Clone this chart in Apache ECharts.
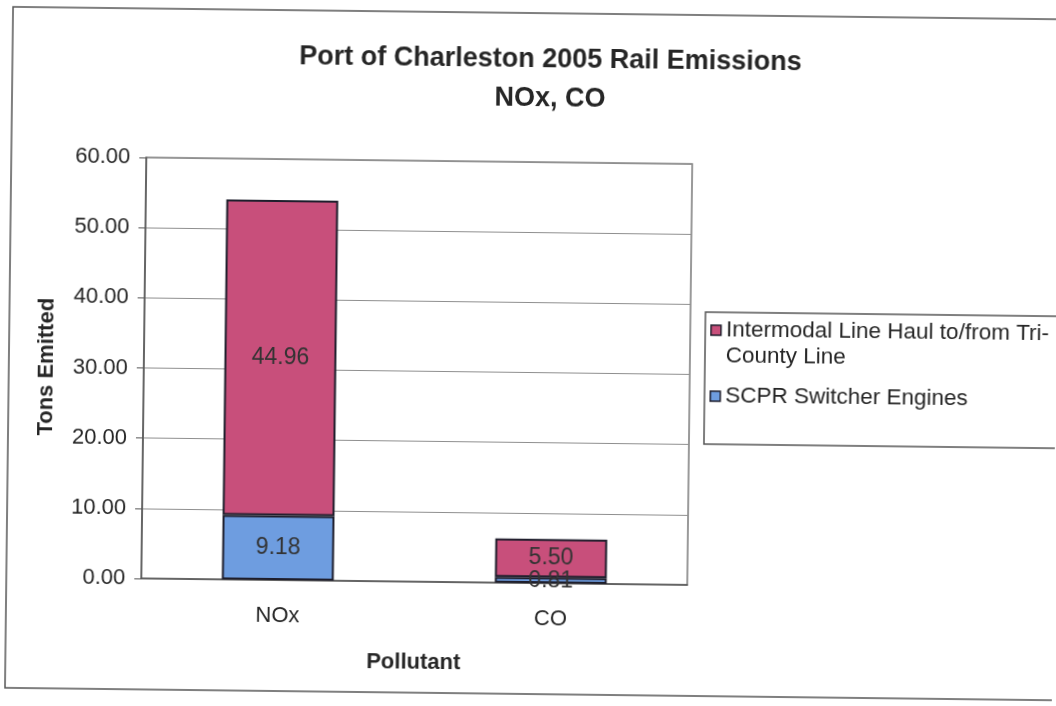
<!DOCTYPE html>
<html>
<head>
<meta charset="utf-8">
<script src="https://cdn.jsdelivr.net/npm/echarts@6/dist/echarts.min.js"></script>
<style>
  html, body { margin: 0; padding: 0; background: #ffffff; overflow: hidden; }
  #chart { width: 1056px; height: 706px; transform: rotate(0.68deg); transform-origin: 50% 50%; }
</style>
</head>
<body>
<div id="chart"></div>
<script>
// Port of Charleston 2005 rail emissions, tons per pollutant
const categories = ['NOx', 'CO'];
const switcherEngines = [9.18, 0.81];      // SCPR Switcher Engines
const intermodalLineHaul = [44.96, 5.50];  // Intermodal Line Haul to/from Tri-County Line
const seriesNames = ['Intermodal Line Haul to/from Tri-\nCounty Line', 'SCPR Switcher Engines'];
const yAxisMin = 0, yAxisMax = 60, yAxisStep = 10;

const FONT = '"Liberation Sans", Arial, Helvetica, sans-serif';
const PINK = '#c84f7b';
const BLUE = '#6e9de0';
const EDGE = '#1e1e2c';
const INK = '#262626';

const chart = echarts.init(document.getElementById('chart'), null, { renderer: 'canvas' });

const barLabel = {
  show: true,
  position: 'inside',
  fontFamily: FONT,
  fontSize: 23,
  color: '#333333',
  formatter: p => Number(p.value).toFixed(2)
};

chart.setOption({
  backgroundColor: '#ffffff',
  animation: false,
  title: {
    text: 'Port of Charleston 2005 Rail Emissions\nNOx, CO',
    left: 542,
    textAlign: 'center',
    top: 35,
    textStyle: {
      fontFamily: FONT,
      fontSize: 27,
      fontWeight: 'bold',
      color: INK,
      lineHeight: 39
    }
  },
  grid: {
    left: 144,
    top: 162,
    width: 546,
    height: 421,
    show: true,
    borderColor: '#7a7a7a',
    borderWidth: 1.5,
    containLabel: false
  },
  legend: {
    orient: 'vertical',
    left: 710,
    top: 289,
    padding: 0,
    itemGap: 14,
    itemWidth: 10,
    itemHeight: 10,
    icon: 'rect',
    // multi-line entries get a blank first line so the swatch sits beside the first text line
    formatter: name => name.indexOf('\n') >= 0 ? '\u00a0\n' + name : name,
    textStyle: { fontFamily: FONT, fontSize: 22.5, color: INK, lineHeight: 26 },
    data: seriesNames,
    itemStyle: { borderColor: EDGE, borderWidth: 1.5 }
  },
  xAxis: {
    type: 'category',
    data: categories,
    name: 'Pollutant',
    nameLocation: 'middle',
    nameGap: 70,
    nameTextStyle: { fontFamily: FONT, fontSize: 22, fontWeight: 'bold', color: INK },
    axisLine: { lineStyle: { color: '#555555', width: 1.5 } },
    axisTick: { show: false },
    axisLabel: { fontFamily: FONT, fontSize: 22, color: INK, margin: 25 }
  },
  yAxis: {
    type: 'value',
    min: yAxisMin,
    max: yAxisMax,
    interval: yAxisStep,
    name: 'Tons Emitted',
    nameLocation: 'middle',
    nameGap: 86,
    nameTextStyle: { fontFamily: FONT, fontSize: 22, fontWeight: 'bold', color: INK },
    axisLine: { show: true, lineStyle: { color: '#555555', width: 1.5 } },
    axisTick: { show: true, length: 7, lineStyle: { color: '#555555' } },
    axisLabel: {
      fontFamily: FONT, fontSize: 22, color: INK, margin: 16,
      formatter: v => v.toFixed(2)
    },
    splitLine: { show: true, lineStyle: { color: '#8f8f8f', width: 1 } }
  },
  series: [
    {
      name: seriesNames[1],
      type: 'bar',
      stack: 'total',
      data: switcherEngines,
      barWidth: '41%',
      itemStyle: { color: BLUE, borderColor: EDGE, borderWidth: 2 },
      label: barLabel
    },
    {
      name: seriesNames[0],
      type: 'bar',
      stack: 'total',
      data: intermodalLineHaul,
      barWidth: '41%',
      itemStyle: { color: PINK, borderColor: EDGE, borderWidth: 2 },
      label: barLabel
    }
  ],
  graphic: [
    {
      type: 'rect',
      shape: { x: 9, y: 13, width: 1060, height: 681 },
      style: { fill: 'none', stroke: '#555555', lineWidth: 1.5 },
      silent: true, z: -1
    },
    {
      type: 'rect',
      shape: { x: 705, y: 310, width: 370, height: 132 },
      style: { fill: 'none', stroke: '#555555', lineWidth: 1.5 },
      silent: true, z: -1
    }
  ]
});
</script>
</body>
</html>
